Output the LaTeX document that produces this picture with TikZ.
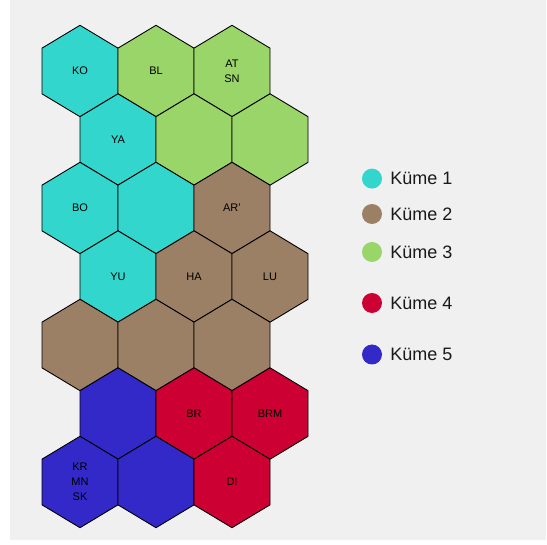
\documentclass[tikz,border=0pt]{standalone}
\usepackage{fontspec}
\setmainfont{Liberation Sans}
\usetikzlibrary{positioning}
\definecolor{kume1}{HTML}{33D6CC}
\definecolor{kume2}{HTML}{9B8066}
\definecolor{kume3}{HTML}{9AD56A}
\definecolor{kume4}{HTML}{CC0033}
\definecolor{kume5}{HTML}{3229C8}
\definecolor{zemin}{HTML}{F0F0F0}
\tikzset{
  hexa/.style={draw=black, line width=0.9pt, line join=round},
  etiket/.style={font=\fontsize{11}{14.8}\selectfont, align=center, inner sep=0pt, text=black},
  nokta/.style={circle, minimum size=20pt, inner sep=0pt},
  lejant/.style={font=\fontsize{18}{20}\selectfont, inner sep=0pt, text=black!90}
}

\begin{document}
\begin{tikzpicture}[line cap=round,line join=round,x=1pt,y=-1pt]
	\useasboundingbox (0,0) rectangle (547,545);
	\fill[zemin] (10,0) rectangle (546,540);
	%altigenler: satir/sutun/renk/etiket
	\foreach \r/\c/\renk/\ad in {1/1/kume1/KO, 1/2/kume3/BL, 1/3/kume3/{AT\\SN},
		2/1/kume1/YA, 2/2/kume3/, 2/3/kume3/,
		3/1/kume1/BO, 3/2/kume1/, 3/3/kume2/AR',
		4/1/kume1/YU, 4/2/kume2/HA, 4/3/kume2/LU,
		5/1/kume2/, 5/2/kume2/, 5/3/kume2/,
		6/1/kume5/, 6/2/kume4/BR, 6/3/kume4/BRM,
		7/1/kume5/{KR\\MN\\SK}, 7/2/kume5/, 7/3/kume4/DI}{
		\pgfmathsetmacro\hx{80+76*(\c-1)+38*(1-mod(\r,2))}
		\pgfmathsetmacro\hy{71+68.5*(\r-1)}
		\coordinate (m\r\c) at (\hx,\hy);
		\draw[hexa, fill=\renk] (m\r\c) +(0,-45.7) -- +(38,-22.85) -- +(38,22.85)
			-- +(0,45.7) -- +(-38,22.85) -- +(-38,-22.85) -- cycle;
		\node[etiket] (h\r\c) at (m\r\c) {\ad};
	}
	%lejant
	\node[nokta, fill=kume1] (l1) at (372,178.6) {};
	\node[nokta, fill=kume2] (l2) at (372,214) {};
	\node[nokta, fill=kume3] (l3) at (372,252) {};
	\node[nokta, fill=kume4] (l4) at (372,303) {};
	\node[nokta, fill=kume5] (l5) at (372,354.5) {};
	\node[lejant, right=8pt of l1] (t1) {Küme 1};
	\node[lejant, right=8pt of l2] (t2) {Küme 2};
	\node[lejant, right=8pt of l3] (t3) {Küme 3};
	\node[lejant, right=8pt of l4] (t4) {Küme 4};
	\node[lejant, right=8pt of l5] (t5) {Küme 5};
\end{tikzpicture}
\end{document}
